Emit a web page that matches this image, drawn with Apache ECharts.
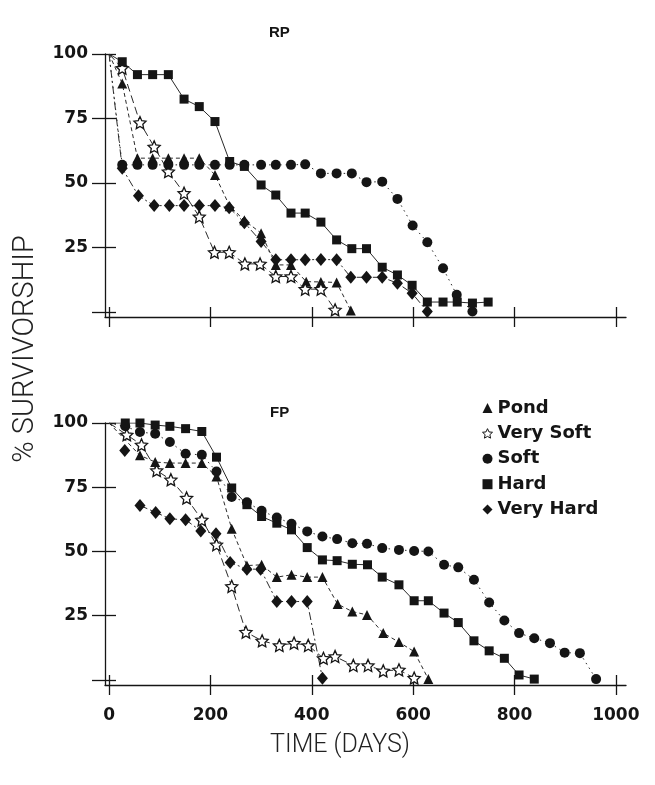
<!DOCTYPE html>
<html>
<head>
<meta charset="utf-8">
<script src="https://cdn.jsdelivr.net/npm/echarts@6/dist/echarts.min.js"></script>
<style>
  html, body { margin: 0; background: #fff; }
  #chart { width: 655px; height: 785px; }
</style>
</head>
<body>
<div id="chart"></div>
<script>
var tickDays = [0, 200, 400, 600, 800, 1000];
var tickPct = [0, 25, 50, 75, 100];
var labelPct = [25, 50, 75, 100];
var groups = ['Pond', 'Very Soft', 'Soft', 'Hard', 'Very Hard'];

// RP panel  [day, % survivorship]
var rpPond = [[0,100],[26,88.6],[56,59.6],[86,59.6],[117,59.6],[148,59.6],[178,59.6],[209,53.1],[238,41],[267,35.5],[300,30.5],[329,18.2],[359,18.2],[389,11.7],[418,11.6],[449,11.4],[477,0.5]];
var rpVerySoft = [[0,100],[26,94.5],[61,73.4],[89,64],[117,54.4],[148,46],[178,36.9],[208,23.1],[237,23.1],[268,18.6],[298,18.6],[329,13.7],[359,13.7],[387,8.8],[418,8.8],[446,0.8]];
var rpSoft = [[0,100],[26,57],[56,57],[86,57],[117,57],[148,57],[178,57],[209,57],[238,57],[267,57],[300,57],[329,57],[359,57],[387,57.2],[418,53.7],[449,53.7],[479,53.7],[508,50.3],[539,50.5],[569,43.8],[599,33.5],[628,27],[659,16.9],[686,6.6],[717,0.1]];
var rpHard = [[0,100],[26,97],[56,92],[86,92],[117,92],[148,82.5],[178,79.6],[209,73.8],[238,58.3],[267,56.4],[300,49.2],[329,45.3],[359,38.3],[387,38.3],[418,34.8],[449,27.9],[479,24.5],[508,24.5],[539,17.3],[569,14.3],[598,10.3],[628,3.8],[659,3.8],[687,3.8],[717,3.4],[748,3.8]];
var rpVeryHard = [[0,100],[26,55.7],[58,45],[89,41.2],[119,41.2],[148,41.2],[178,41.2],[209,41.2],[237,40.4],[267,34.6],[300,27.3],[329,20.2],[359,20.2],[387,20.2],[418,20.3],[449,20.2],[477,13.4],[508,13.4],[539,13.4],[569,11.1],[598,7.2],[628,0.1]];

// FP panel
var fpPond = [[0,100],[61,87.4],[91,84.8],[120,84.4],[151,84.4],[183,84.4],[212,79.2],[242,58.8],[272,44.5],[301,44.8],[331,40],[360,40.9],[391,40],[421,40],[451,29.5],[480,26.6],[509,25.3],[541,18.2],[572,14.7],[602,11],[630,0.3]];
var fpVerySoft = [[0,100],[35,95.4],[64,91.5],[94,81.5],[122,77.9],[153,70.8],[183,62.3],[212,52.6],[242,36.4],[270,18.6],[302,15.2],[336,13.4],[365,14.3],[393,13.4],[423,8.4],[446,9.1],[482,5.6],[511,5.6],[541,3.5],[572,3.9],[602,0.7]];
var fpSoft = [[0,100],[32,98.7],[61,96.5],[91,95.8],[120,92.6],[151,88],[183,87.6],[212,81.1],[242,71.2],[272,69.1],[301,65.8],[331,63.2],[360,60.8],[391,57.8],[421,55.8],[450,54.8],[480,53.2],[509,53],[539,51.3],[572,50.6],[602,50.2],[630,50],[661,44.8],[689,43.8],[720,39],[750,30.1],[780,23.1],[809,18.2],[839,16.2],[870,14.3],[899,10.6],[929,10.4],[961,0.3]];
var fpHard = [[0,100],[32,100],[61,100],[91,99.2],[120,98.7],[151,97.8],[183,96.7],[212,86.7],[242,74.7],[272,68.2],[301,63.6],[331,61],[360,58.4],[391,51.5],[421,46.7],[450,46.4],[480,45],[510,44.8],[539,40],[572,37],[602,30.8],[630,30.8],[661,26],[689,22.3],[720,15.2],[750,11.3],[780,8.4],[809,1.9],[839,0.3]];
var fpVeryHard = [[31,89.3],[46,'-'],[61,67.9],[92,65.2],[120,62.7],[151,62.3],[181,58],[211,56.9],[239,45.7],[272,43.1],[299,43.1],[331,30.5],[360,30.5],[391,30.5],[421,0.6]];

var INK = '#151515';
var STAR = 'path://M5 0L6.4 3.1L9.76 3.46L7.25 5.75L7.94 9.05L5 7.4L2.06 9.05L2.75 5.75L0.24 3.46L3.6 3.1Z';

var look = {
  'Pond':      { symbol: 'triangle', size: 10, dash: [4, 3] },
  'Very Soft': { symbol: STAR, size: 12, dash: [8, 4], hollow: true },
  'Soft':      { symbol: 'circle', size: 10, dash: [1.5, 4] },
  'Hard':      { symbol: 'rect', size: 9, dash: 'solid' },
  'Very Hard': { symbol: 'diamond', size: [11, 13], dash: [8, 3, 2, 3] }
};

function mkSeries(name, pts, axis) {
  var lk = look[name];
  return {
    type: 'line', name: name,
    xAxisIndex: axis, yAxisIndex: axis,
    symbol: lk.symbol, symbolSize: lk.size,
    showAllSymbol: true,
    lineStyle: { color: '#2a2a2a', width: 1, type: lk.dash },
    itemStyle: lk.hollow
      ? { color: '#fff', borderColor: INK, borderWidth: 1.3 }
      : { color: INK, borderWidth: 0 },
    emphasis: { disabled: true },
    animation: false,
    data: pts.map(function (p) {
      return p[0] === 0 ? { value: p, symbol: 'none' } : p;
    })
  };
}

var tickStyle = { color: INK, width: 1.3 };
var labelFont = { fontSize: 17, fontWeight: 'bold', color: INK, fontFamily: 'DejaVu Sans' };
function plain(v) { return String(v); }

function xAxes(grid, labels) {
  return [
    { type: 'value', gridIndex: grid, min: -8, max: 1020, position: 'bottom',
      axisLine: { onZero: false, lineStyle: tickStyle },
      axisTick: { customValues: tickDays, length: 10, lineStyle: tickStyle },
      axisLabel: Object.assign({ show: labels, customValues: tickDays, margin: 22, formatter: plain }, labelFont),
      splitLine: { show: false } },
    { type: 'value', gridIndex: grid, min: -8, max: 1020, position: 'bottom',
      axisLine: { show: false, onZero: false },
      axisTick: { inside: true, customValues: tickDays, length: 10, lineStyle: tickStyle },
      axisLabel: { show: false },
      splitLine: { show: false } }
  ];
}

function yAxes(grid) {
  return [
    { type: 'value', gridIndex: grid, min: -2, max: 100, position: 'left',
      axisLine: { onZero: false, lineStyle: tickStyle },
      axisTick: { customValues: tickPct, length: 13, lineStyle: tickStyle },
      axisLabel: Object.assign({ customValues: labelPct, margin: 17, formatter: plain }, labelFont),
      splitLine: { show: false } },
    { type: 'value', gridIndex: grid, min: -2, max: 100, position: 'left',
      axisLine: { show: false, onZero: false },
      axisTick: { inside: true, customValues: tickPct, length: 11, lineStyle: tickStyle },
      axisLabel: { show: false },
      splitLine: { show: false } }
  ];
}

var series = [];
[rpPond, rpVerySoft, rpSoft, rpHard, rpVeryHard].forEach(function (d, i) {
  series.push(mkSeries(groups[i], d, 0));
});
[fpPond, fpVerySoft, fpSoft, fpHard, fpVeryHard].forEach(function (d, i) {
  series.push(mkSeries(groups[i], d, 2));
});

var chart = echarts.init(document.getElementById('chart'), null, { renderer: 'canvas' });
chart.setOption({
  backgroundColor: '#fff',
  animation: false,
  title: [
    { text: 'RP', left: 264, top: 20, textStyle: { fontSize: 15, fontWeight: 'bold', color: INK, fontFamily: 'Liberation Sans' } },
    { text: 'FP', left: 265, top: 400, textStyle: { fontSize: 15, fontWeight: 'bold', color: INK, fontFamily: 'Liberation Sans' } }
  ],
  grid: [
    { left: 105, top: 54, width: 521, height: 263 },
    { left: 105, top: 423, width: 521, height: 262 }
  ],
  xAxis: xAxes(0, false).concat(xAxes(1, true)),
  yAxis: yAxes(0).concat(yAxes(1)),
  legend: {
    orient: 'vertical', left: 477, top: 394,
    itemWidth: 10, itemHeight: 10, itemGap: 7.4,
    selectedMode: false,
    textStyle: { fontSize: 18, fontWeight: 'bold', color: INK, fontFamily: 'DejaVu Sans', lineHeight: 18 },
    data: groups.map(function (g) {
      var lk = look[g];
      return {
        name: g, icon: lk.symbol,
        itemStyle: lk.hollow
          ? { color: '#fff', borderColor: INK, borderWidth: 1 }
          : { color: INK, borderWidth: 0 }
      };
    })
  },
  graphic: [
    { type: 'text', x: 26, y: 349, rotation: Math.PI / 2,
      style: { text: '% SURVIVORSHIP', fontSize: 29, fontWeight: 300, fontFamily: 'Roboto, Lato, sans-serif',
        fill: '#222', align: 'center', verticalAlign: 'middle', textAlign: 'center', textVerticalAlign: 'middle' } },
    { type: 'text', x: 340, y: 746,
      style: { text: 'TIME (DAYS)', fontSize: 25, fontWeight: 300, fontFamily: 'Roboto, Lato, sans-serif',
        fill: '#222', align: 'center', verticalAlign: 'middle', textAlign: 'center', textVerticalAlign: 'middle' } }
  ],
  series: series
});
</script>
</body>
</html>
